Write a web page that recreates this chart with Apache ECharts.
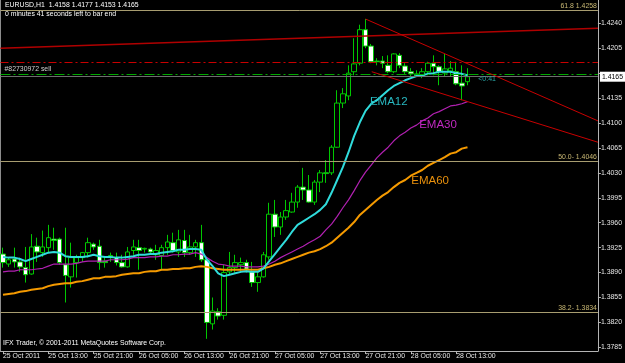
<!DOCTYPE html>
<html>
<head>
<meta charset="utf-8">
<script src="https://cdn.jsdelivr.net/npm/echarts@6/dist/echarts.min.js"></script>
<style>html,body{margin:0;padding:0;background:#000;}#c{width:625px;height:363px;}</style>
</head>
<body>
<div id="c"></div>
<script>
// Bar index 0 = 25 Oct 2011 05:00, one bar per hour (EURUSD H1)
const opens  = [1.3916,1.3902,1.3909,1.3905,1.3897,1.3888,1.3927,1.3918,1.3925,1.3937,1.3937,1.3901,1.3884,1.3904,1.3911,1.3918,1.3930,1.3927,1.3906,1.3911,1.3911,1.3904,1.3898,1.3921,1.3925,1.3923,1.3923,1.3915,1.3914,1.3925,1.3932,1.3919,1.3935,1.3918,1.3926,1.3932,1.3908,1.3818,1.3835,1.3830,1.3891,1.3897,1.3901,1.3904,1.3891,1.3876,1.3884,1.3912,1.3972,1.3954,1.3968,1.3975,1.3989,1.4010,1.4006,1.3989,1.4017,1.4030,1.4030,1.4066,1.4128,1.4138,1.4172,1.4184,1.4231,1.4208,1.4187,1.4187,1.4181,1.4172,1.4195,1.4180,1.4172,1.4166,1.4166,1.4172,1.4184,1.4179,1.4170,1.4173,1.4172,1.4156,1.4158];
const highs  = [1.3925,1.3912,1.3925,1.3911,1.3926,1.3944,1.3939,1.3949,1.3957,1.3953,1.3939,1.3953,1.3932,1.3915,1.3919,1.3939,1.3932,1.3936,1.3912,1.3918,1.3918,1.3915,1.3926,1.3936,1.3936,1.3925,1.3925,1.3929,1.3929,1.3943,1.3946,1.3950,1.3950,1.3943,1.3936,1.3957,1.3911,1.3855,1.3840,1.3901,1.3919,1.3915,1.3911,1.3908,1.3905,1.3891,1.3919,1.3988,1.3992,1.3975,1.3992,1.4002,1.4013,1.4037,1.4027,1.4020,1.4034,1.4048,1.4069,1.4146,1.4149,1.4181,1.4219,1.4238,1.4246,1.4211,1.4191,1.4194,1.4195,1.4198,1.4198,1.4184,1.4177,1.4174,1.4177,1.4186,1.4195,1.4181,1.4197,1.4187,1.4186,1.4181,1.4177];
const lows   = [1.3897,1.3898,1.3897,1.3891,1.3876,1.3887,1.3905,1.3912,1.3918,1.3922,1.3901,1.3848,1.3869,1.3883,1.3905,1.3911,1.3922,1.3894,1.3897,1.3905,1.3900,1.3897,1.3897,1.3915,1.3894,1.3918,1.3916,1.3908,1.3894,1.3915,1.3918,1.3912,1.3912,1.3915,1.3912,1.3905,1.3797,1.3810,1.3824,1.3824,1.3887,1.3890,1.3890,1.3890,1.3870,1.3863,1.3883,1.3908,1.3940,1.3943,1.3964,1.3974,1.3981,1.3992,1.3988,1.3985,1.4003,1.4016,1.4027,1.4065,1.4121,1.4132,1.4167,1.4181,1.4205,1.4184,1.4181,1.4177,1.4170,1.4170,1.4177,1.4169,1.4165,1.4165,1.4163,1.4167,1.4167,1.4153,1.4165,1.4165,1.4153,1.4132,1.4153];
const closes = [1.3904,1.3908,1.3905,1.3898,1.3887,1.3926,1.3919,1.3926,1.3939,1.3935,1.3904,1.3886,1.3911,1.3911,1.3918,1.3932,1.3926,1.3904,1.3904,1.3914,1.3904,1.3898,1.3919,1.3926,1.3921,1.3924,1.3919,1.3921,1.3925,1.3933,1.3921,1.3936,1.3918,1.3926,1.3932,1.3908,1.3820,1.3836,1.3829,1.3890,1.3897,1.3904,1.3904,1.3895,1.3876,1.3884,1.3915,1.3972,1.3954,1.3968,1.3977,1.3989,1.4010,1.4006,1.3989,1.4017,1.4030,1.4029,1.4066,1.4128,1.4141,1.4170,1.4183,1.4231,1.4208,1.4186,1.4186,1.4184,1.4172,1.4197,1.4181,1.4172,1.4169,1.4169,1.4172,1.4184,1.4179,1.4172,1.4176,1.4177,1.4155,1.4152,1.4165];

const ema12 = [1.3912,1.3911,1.3911,1.3909,1.3906,1.3909,1.3912,1.3915,1.3918,1.3919,1.3918,1.3913,1.3912,1.3912,1.3912,1.3913,1.3915,1.3913,1.3912,1.3912,1.3911,1.3911,1.3912,1.3913,1.3915,1.3915,1.3916,1.3916,1.3918,1.3919,1.3920,1.3922,1.3922,1.3923,1.3923,1.3922,1.3908,1.3899,1.3889,1.3885,1.3887,1.3889,1.3891,1.3892,1.3891,1.3891,1.3896,1.3906,1.3916,1.3926,1.3936,1.3947,1.3957,1.3962,1.3967,1.3972,1.3978,1.3986,1.4002,1.4020,1.4038,1.4059,1.4082,1.4101,1.4117,1.4127,1.4132,1.4139,1.4146,1.4152,1.4156,1.4160,1.4163,1.4166,1.4167,1.4169,1.4170,1.4172,1.4172,1.4172,1.4170,1.4169,1.4167];
const ema30 = [1.3891,1.3892,1.3892,1.3894,1.3894,1.3894,1.3895,1.3896,1.3899,1.3902,1.3902,1.3902,1.3902,1.3903,1.3905,1.3906,1.3906,1.3906,1.3906,1.3908,1.3908,1.3908,1.3909,1.3911,1.3911,1.3911,1.3912,1.3912,1.3913,1.3913,1.3915,1.3915,1.3916,1.3916,1.3918,1.3916,1.3911,1.3906,1.3902,1.3901,1.3899,1.3899,1.3899,1.3898,1.3898,1.3898,1.3899,1.3902,1.3906,1.3911,1.3915,1.3919,1.3923,1.3927,1.3932,1.3936,1.3941,1.3950,1.3958,1.3969,1.3981,1.3992,1.4005,1.4019,1.4031,1.4041,1.4051,1.4059,1.4066,1.4075,1.4082,1.4087,1.4093,1.4097,1.4103,1.4107,1.4113,1.4116,1.4120,1.4124,1.4125,1.4127,1.4130];
const ema60 = [1.3859,1.3860,1.3861,1.3863,1.3864,1.3866,1.3867,1.3868,1.3871,1.3873,1.3874,1.3875,1.3875,1.3877,1.3878,1.3880,1.3882,1.3882,1.3884,1.3884,1.3885,1.3887,1.3888,1.3889,1.3889,1.3891,1.3892,1.3892,1.3894,1.3894,1.3895,1.3895,1.3896,1.3896,1.3898,1.3899,1.3898,1.3896,1.3895,1.3894,1.3894,1.3894,1.3894,1.3894,1.3894,1.3894,1.3896,1.3898,1.3901,1.3903,1.3906,1.3909,1.3912,1.3915,1.3918,1.3920,1.3923,1.3927,1.3932,1.3939,1.3946,1.3953,1.3961,1.3971,1.3978,1.3985,1.3992,1.3998,1.4003,1.4010,1.4016,1.4020,1.4026,1.4030,1.4034,1.4040,1.4044,1.4048,1.4052,1.4057,1.4059,1.4064,1.4066];

const xTickIndex  = [0,8,16,24,32,40,48,56,64,72,80];
const xTickLabels = ['25 Oct 2011','25 Oct 13:00','25 Oct 21:00','26 Oct 05:00','26 Oct 13:00','26 Oct 21:00','27 Oct 05:00','27 Oct 13:00','27 Oct 21:00','28 Oct 05:00','28 Oct 13:00'];
const yTickValues = [1.3785,1.3820,1.3855,1.3890,1.3925,1.3960,1.3995,1.4030,1.4065,1.4100,1.4135,1.4170,1.4205,1.4240];
const yLabelValues = [1.3785,1.3820,1.3855,1.3890,1.3925,1.3960,1.3995,1.4030,1.4065,1.4100,1.4135,1.4205,1.4240];

// horizontal levels
const fiboLevels = [1.4258, 1.4046, 1.3834];
const fiboLabels = ['61.8 1.4258', '50.0- 1.4046', '38.2- 1.3834'];
const redLevel = 1.4185;
const orderLevel = 1.4169;
const bidPrice = 1.4165;
// trend lines: [[barIndex, price], [barIndex, price]]
const trendLine   = [[-0.44, 1.4205], [105.03, 1.4233]];
const channelUp   = [[64, 1.4246], [105.03, 1.4103]];
const channelDown = [[65.1, 1.4172], [105.03, 1.4073]];
// text anchors [barIndex, price]
const ema12Label = [68.1, 1.4130];
const ema30Label = [76.8, 1.4097];
const ema60Label = [75.4, 1.4019];
const timerLabel = [83.9, 1.4162];

const FONT = 'Liberation Sans';
const XMIN = -0.44, XMAX = 105.03, YMIN = 1.37799, YMAX = 1.42727;

const chart = echarts.init(document.getElementById('c'), null, {renderer: 'canvas'});
const candleData = opens.map((o, i) => [i, o, closes[i], lows[i], highs[i]]);
const toXY = arr => arr.map((v, i) => [i, v]);

const option = {
  animation: false,
  backgroundColor: '#000000',
  grid: {left: 0, right: 27, top: 0, bottom: 12, containLabel: false},
  xAxis: {
    type: 'value', min: XMIN, max: XMAX,
    axisLine: {show: true, onZero: false, lineStyle: {color: '#b4b4b4', width: 1}},
    axisTick: {show: true, customValues: xTickIndex, length: 3, lineStyle: {color: '#b4b4b4'}},
    axisLabel: {
      show: true, customValues: xTickIndex, align: 'left', margin: 2,
      color: '#e6e6e6', fontSize: 6.9, fontFamily: FONT,
      formatter: v => { const k = xTickIndex.indexOf(Math.round(v)); return k >= 0 ? xTickLabels[k] : ''; }
    },
    splitLine: {show: false}
  },
  yAxis: [{
    type: 'value', position: 'right', min: YMIN, max: YMAX,
    axisLine: {show: true, onZero: false, lineStyle: {color: '#b4b4b4', width: 1}},
    axisTick: {show: true, customValues: yTickValues, length: 3, lineStyle: {color: '#b4b4b4'}},
    axisLabel: {show: true, customValues: yLabelValues, margin: 3, color: '#e6e6e6', fontSize: 6.9, fontFamily: FONT,
      hideOverlap: false, formatter: v => v.toFixed(4)},
    splitLine: {show: false}
  }, {
    type: 'value', position: 'left', min: YMIN, max: YMAX,
    axisLine: {show: true, onZero: false, lineStyle: {color: '#8c8c8c', width: 1}},
    axisTick: {show: false}, axisLabel: {show: false}, splitLine: {show: false}
  }],
  graphic: [
    {type: 'text', left: 5, top: 2, style: {text: 'EURUSD,H1  1.4158 1.4177 1.4153 1.4165', fill: '#ffffff', font: '6.9px "Liberation Sans"'}},
    {type: 'text', left: 5, top: 11, style: {text: '0 minutes 41 seconds left to bar end', fill: '#ffffff', font: '6.9px "Liberation Sans"'}},
    {type: 'text', left: 3, top: 340, style: {text: 'IFX Trader, \u00a9 2001-2011 MetaQuotes Software Corp.', fill: '#ffffff', font: '6.9px "Liberation Sans"'}}
  ],
  series: [
    {
      name: 'levels', type: 'line', data: [], silent: true, z: 1,
      markLine: {
        silent: true, symbol: ['none', 'none'], animation: false, precision: 5,
        data: [
          ...fiboLevels.map((lv, k) => ({
            yAxis: lv,
            lineStyle: {color: '#a89d70', width: 1, type: 'solid'},
            label: {show: true, position: 'insideEndTop', formatter: fiboLabels[k], color: '#c9b874', fontSize: 6.9, fontFamily: FONT, distance: [1, 1]}
          })),
          {yAxis: redLevel, lineStyle: {color: '#c80000', width: 1, type: [8, 3, 2, 3]}, label: {show: false}},
          {yAxis: orderLevel, lineStyle: {color: '#00a800', width: 1, type: [10, 3, 2, 3]},
            label: {show: true, position: 'insideStartTop', formatter: '#82730972 sell', color: '#d0d0d0', fontSize: 6.9, fontFamily: FONT, distance: [4, 1]}},
          {yAxis: bidPrice, lineStyle: {color: '#6e6e6e', width: 1, type: 'solid'},
            label: {show: true, position: 'end', formatter: bidPrice.toFixed(4), color: '#000', backgroundColor: '#ffffff', padding: [2, 2, 1, 2], fontSize: 6.9, fontFamily: FONT, distance: 2}},
          [{coord: trendLine[0]}, {coord: trendLine[1], lineStyle: {color: '#b00000', width: 1.5, type: 'solid'}}],
          [{coord: channelUp[0]}, {coord: channelUp[1], lineStyle: {color: '#c80000', width: 1, type: 'solid'}}],
          [{coord: channelDown[0]}, {coord: channelDown[1], lineStyle: {color: '#c80000', width: 1, type: 'solid'}}]
        ]
      }
    },
    {
      name: 'EURUSD', type: 'candlestick', data: candleData, barWidth: 5, z: 2,
      itemStyle: {color: '#000000', color0: '#ffffff', borderColor: '#00c800', borderColor0: '#00c800', borderColorDoji: '#00c800', borderWidth: 1},
      markPoint: {
        silent: true, symbol: 'circle', symbolSize: 0, animation: false,
        data: [{coord: timerLabel, label: {show: true, position: 'right', distance: 0, formatter: '<0:41', color: '#2aa8a8', fontSize: 7, fontFamily: FONT}}]
      }
    },
    {
      name: 'EMA60', type: 'line', data: toXY(ema60), showSymbol: false, z: 3,
      lineStyle: {color: '#f59a00', width: 2}, itemStyle: {color: '#f59a00'},
      markPoint: {silent: true, symbol: 'circle', symbolSize: 0, animation: false,
        data: [{coord: ema60Label, label: {show: true, position: 'inside', formatter: 'EMA60', color: '#e8900c', fontSize: 11.5, fontFamily: FONT}}]}
    },
    {
      name: 'EMA30', type: 'line', data: toXY(ema30), showSymbol: false, z: 3,
      lineStyle: {color: '#b020b0', width: 1.2}, itemStyle: {color: '#b020b0'},
      markPoint: {silent: true, symbol: 'circle', symbolSize: 0, animation: false,
        data: [{coord: ema30Label, label: {show: true, position: 'inside', formatter: 'EMA30', color: '#c028c0', fontSize: 11.5, fontFamily: FONT}}]}
    },
    {
      name: 'EMA12', type: 'line', data: toXY(ema12), showSymbol: false, z: 4,
      lineStyle: {color: '#30dcdc', width: 2}, itemStyle: {color: '#30dcdc'},
      markPoint: {silent: true, symbol: 'circle', symbolSize: 0, animation: false,
        data: [{coord: ema12Label, label: {show: true, position: 'inside', formatter: 'EMA12', color: '#28b8c0', fontSize: 11.5, fontFamily: FONT}}]}
    }
  ]
};
chart.setOption(option);
</script>
</body>
</html>
